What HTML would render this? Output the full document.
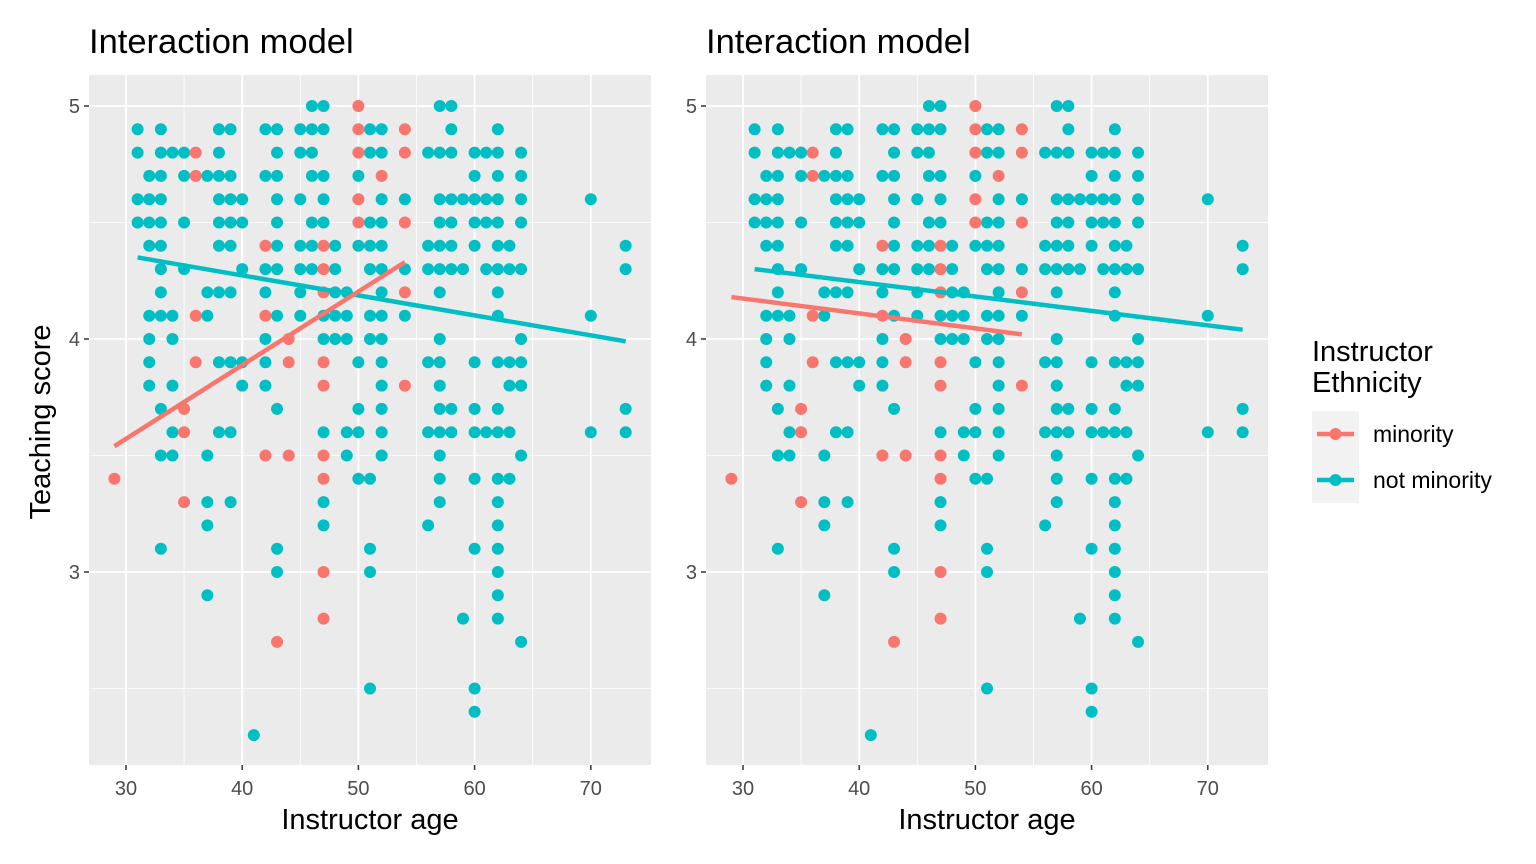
<!DOCTYPE html>
<html><head><meta charset="utf-8">
<style>
html,body{margin:0;padding:0;background:#fff;}
svg{display:block;font-family:"Liberation Sans",Arial,sans-serif;}
</style></head>
<body>
<svg id="chart" width="1536" height="864" viewBox="0 0 1536 864" xmlns="http://www.w3.org/2000/svg"></svg>
<script>
// ---- data ----
const scoreRows = [5.0,4.9,4.8,4.7,4.6,4.5,4.4,4.3,4.2,4.1,4.0,3.9,3.8,3.7,3.6,3.5,3.4,3.3,3.2,3.1,3.0,2.9,2.8,2.7,2.5,2.4,2.3];
const notMinorityAges = [
 [46,47,57,58],
 [31,33,38,39,42,43,45,46,47,51,52,58,62],
 [31,33,34,35,38,43,45,46,51,52,56,57,58,60,61,62,64],
 [32,33,35,37,38,39,42,43,46,47,50,60,62,64],
 [31,32,33,38,39,40,43,45,47,52,54,57,58,59,60,61,62,64,70],
 [31,32,33,35,38,39,40,43,46,47,51,52,57,58,60,61,62,64],
 [32,33,38,39,43,45,46,48,50,51,52,56,57,58,60,62,63,73],
 [33,35,40,42,43,45,46,48,51,52,54,56,57,58,59,61,62,63,64,73],
 [33,37,38,39,42,45,48,49,52,57,62],
 [32,33,34,37,43,45,47,48,49,51,52,54,62,70],
 [32,34,42,47,48,49,51,52,57,64],
 [32,38,39,40,42,50,52,56,57,60,62,63,64],
 [32,34,40,42,52,57,63,64],
 [33,43,50,52,57,58,60,62,73],
 [34,38,39,47,49,50,52,56,57,58,60,61,62,63,70,73],
 [33,34,37,49,52,57,64],
 [50,51,57,60,62,63],
 [37,39,47,57,62],
 [37,47,56,62],
 [33,43,51,60,62],
 [43,51,62],
 [37,62],
 [59,62],
 [64],
 [51,60],
 [60],
 [41]
];
const minorityAges = [
 [50],[50,54],[36,50,54],[36,52],[50],[50,54],[42,47],[47],[47,54],[36,42],[44],[36,44,47],[47,54],[35],[35],[42,44,47],[29,47],[35],[],[],[47],[],[47],[43],[],[],[]
];
// fitted lines: [age1, score1, age2, score2]
const interactionMinority = [29,3.54,54,4.33];
const interactionNotMinority = [31,4.35,73,3.99];
const parallelMinority = [29,4.18,54,4.02];
const parallelNotMinority = [31,4.30,73,4.04];
const xTicks = [30,40,50,60,70];
const yTicks = [3,4,5];
const xMinor = [35,45,55,65];
const yMinor = [2.5,3.5,4.5];

const RED = "#F8766D", TEAL = "#00BFC4";
const svg = document.getElementById('chart');
const NS = "http://www.w3.org/2000/svg";
function mk(tag, attrs, parent){
  const e = document.createElementNS(NS, tag);
  for (const k in attrs) e.setAttribute(k, attrs[k]);
  (parent||svg).appendChild(e);
  return e;
}
const yTop=75, yBot=765;
function yScale(v){ return 106 + (5 - v) * 233; }

function panel(px0, idx, redLine, tealLine){
  const px1 = px0 + 562;
  function xScale(a){ return px0 + 37 + (a - 30) * 11.62; }
  const g = mk('g', {});
  
  
  const bg = mk('rect', {x:px0, y:yTop, width:562, height:yBot-yTop, fill:'#EBEBEB'}, g);
  
  
  xMinor.forEach(a=>{ mk('line',{x1:xScale(a),x2:xScale(a),y1:yTop,y2:yBot,stroke:'#fff','stroke-width':0.8},g); });
  yMinor.forEach(v=>{ mk('line',{x1:px0,x2:px1,y1:yScale(v),y2:yScale(v),stroke:'#fff','stroke-width':0.8},g); });
  xTicks.forEach(a=>{
    mk('line',{x1:xScale(a),x2:xScale(a),y1:yTop,y2:yBot,stroke:'#fff','stroke-width':1.8},g);
    mk('line',{x1:xScale(a),x2:xScale(a),y1:yBot,y2:yBot+5,stroke:'#333','stroke-width':1.5},g);
    const t = mk('text',{x:xScale(a),y:yBot+30,'text-anchor':'middle','font-size':20,fill:'#4D4D4D'},g);
    t.textContent = a;
    
    
  });
  yTicks.forEach(v=>{
    mk('line',{x1:px0,x2:px1,y1:yScale(v),y2:yScale(v),stroke:'#fff','stroke-width':1.8},g);
    mk('line',{x1:px0-5,x2:px0,y1:yScale(v),y2:yScale(v),stroke:'#333','stroke-width':1.5},g);
    const t = mk('text',{x:px0-9,y:yScale(v)+7,'text-anchor':'end','font-size':20,fill:'#4D4D4D'},g);
    t.textContent = v;
    
    
  });
  scoreRows.forEach((s,i)=>{
    notMinorityAges[i].forEach(a=>{
      const c = mk('circle',{cx:xScale(a),cy:yScale(s),r:6,fill:TEAL},g);
      
      
    });
  });
  scoreRows.forEach((s,i)=>{
    minorityAges[i].forEach(a=>{
      const c = mk('circle',{cx:xScale(a),cy:yScale(s),r:6,fill:RED},g);
      
      
    });
  });
  const l1 = mk('line',{x1:xScale(tealLine[0]),y1:yScale(tealLine[1]),x2:xScale(tealLine[2]),y2:yScale(tealLine[3]),stroke:TEAL,'stroke-width':4.5},g);
  
  
  const l2 = mk('line',{x1:xScale(redLine[0]),y1:yScale(redLine[1]),x2:xScale(redLine[2]),y2:yScale(redLine[3]),stroke:RED,'stroke-width':4.5},g);
  
  
  const title = mk('text',{x:px0,y:53,'font-size':34.5,fill:'#000'},g);
  title.textContent = 'Interaction model';
  
  
  const xl = mk('text',{x:px0+281,y:829,'text-anchor':'middle','font-size':29,fill:'#000'},g);
  xl.textContent = 'Instructor age';
  
  
}
panel(89, 1, interactionMinority, interactionNotMinority);
panel(706, 2, parallelMinority, parallelNotMinority);

const yl = mk('text',{x:0,y:0,'text-anchor':'middle','font-size':29,fill:'#000',transform:'translate(50,422) rotate(-90)'});
yl.textContent = 'Teaching score';



const lg = mk('g',{});


const lt1 = mk('text',{x:1312,y:361,'font-size':29,fill:'#000'},lg);
lt1.textContent = 'Instructor';


const lt2 = mk('text',{x:1312,y:392,'font-size':29,fill:'#000'},lg);
lt2.textContent = 'Ethnicity';


mk('rect',{x:1312,y:411,width:47,height:92,fill:'#F2F2F2'},lg);
[[RED,'minority',434],[TEAL,'not minority',480]].forEach(([col,lab,y])=>{
  const e = mk('g',{},lg);
  
  
  mk('line',{x1:1317,x2:1354,y1:y,y2:y,stroke:col,'stroke-width':4.5},e);
  mk('circle',{cx:1335.5,cy:y,r:6,fill:col},e);
  const t = mk('text',{x:1373,y:y+8,'font-size':23,fill:'#000'},e);
  t.textContent = lab;
});
</script>
</body></html>
